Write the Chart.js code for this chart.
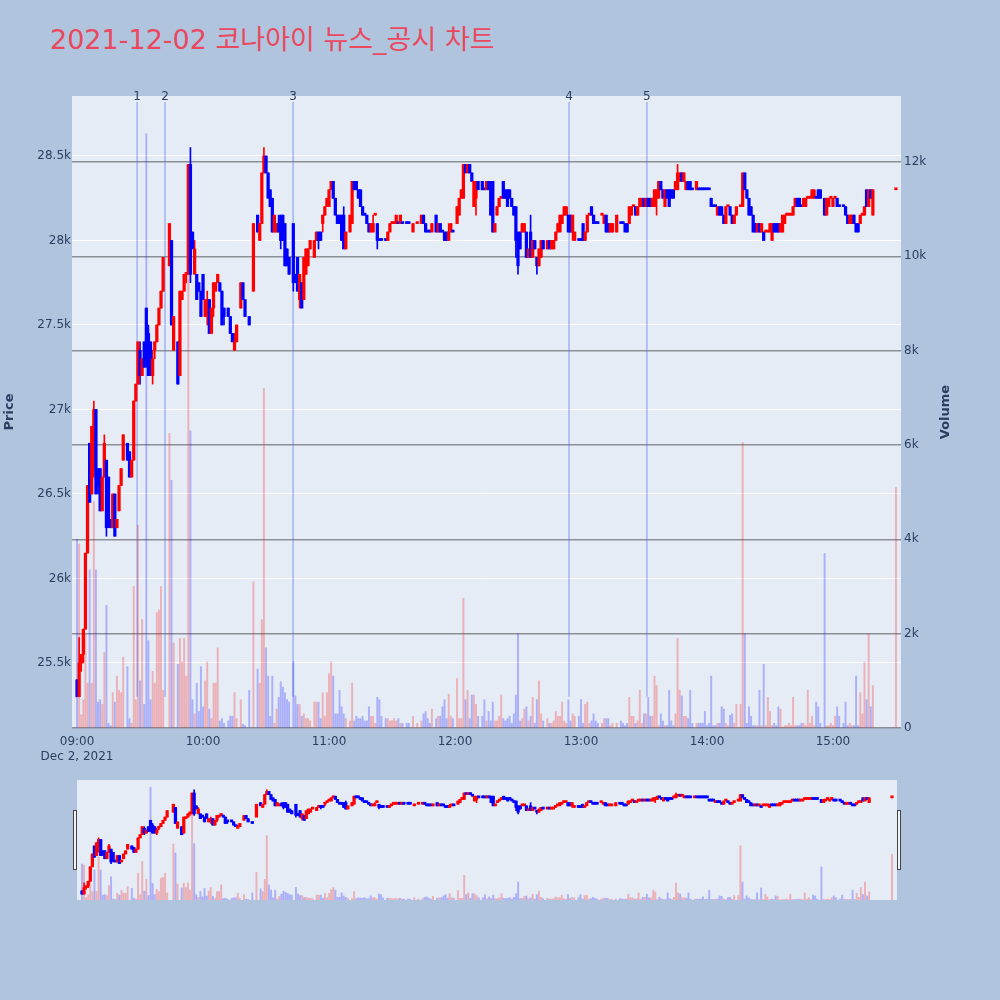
<!DOCTYPE html>
<html>
<head>
<meta charset="utf-8">
<script src="https://cdn.jsdelivr.net/npm/chart.js@4.4.0/dist/chart.umd.min.js"></script>
<style>
  body { margin: 0; width: 1000px; height: 1000px; background: #b0c4de; position: relative; overflow: hidden; }
  #title { position: absolute; left: 50px; top: 26px; font: 27px "DejaVu Sans", "Noto Sans CJK KR", sans-serif; color: #e9485e; white-space: nowrap; line-height: 1; }
  #main { position: absolute; left: 0; top: 0; }
  #slider { position: absolute; left: 72px; top: 780px; }
</style>
</head>
<body>
<div id="title">2021-12-02 코나아이 뉴스_공시 차트</div>
<canvas id="main" width="1000" height="770"></canvas>
<canvas id="slider" width="830" height="120"></canvas>
<script>
// minutes after 09:00, 2021-12-02 (1-minute candles)
const minutesFromOpen = [
  0,1,2,3,4,5,6,7,8,9,
  10,11,12,13,14,15,16,17,18,19,
  20,21,22,24,25,26,27,28,29,30,
  31,32,33,34,35,36,37,38,39,40,
  41,44,45,46,48,49,50,51,52,53,
  54,55,56,57,58,59,60,61,62,63,
  64,65,66,67,68,69,70,72,73,74,
  75,76,78,79,80,82,84,86,87,88,
  89,90,91,92,93,94,95,96,97,98,
  99,100,101,103,104,105,106,107,108,109,
  110,111,113,114,115,116,117,118,119,120,
  121,122,123,124,125,126,127,128,130,131,
  132,133,134,135,136,137,138,139,140,141,
  142,143,144,145,147,148,149,150,151,152,
  153,154,155,157,158,160,162,164,165,166,
  167,168,169,171,172,173,174,175,176,177,
  178,179,181,182,183,184,185,186,187,188,
  189,190,191,193,194,195,196,197,198,199,
  200,201,202,203,204,205,206,207,208,209,
  210,211,212,213,214,215,216,217,218,219,
  220,221,222,224,225,226,227,228,229,230,
  231,232,233,234,235,236,237,239,240,241,
  242,243,244,245,246,247,248,250,251,252,
  253,254,255,257,259,260,261,262,263,264,
  265,266,267,268,269,270,271,272,273,274,
  275,276,277,278,279,280,281,282,283,284,
  285,286,287,288,289,290,291,292,293,295,
  296,297,298,299,300,301,302,303,304,305,
  306,307,308,309,310,311,312,313,314,316,
  317,318,319,320,321,322,323,324,325,326,
  327,328,329,330,331,332,333,334,335,336,
  337,338,339,340,341,342,343,344,345,346,
  347,348,349,350,351,352,353,354,356,357,
  358,359,360,361,362,363,365,366,367,368,
  369,370,371,372,373,374,375,376,377,378,
  379,390
];

const openPrices = [
  25400,25300,25500,25550,25700,26150,26800,26500,26650,27000,
  26650,26650,26400,26600,26700,26600,26350,26300,26500,26300,
  26400,26550,26700,26800,26750,26600,26700,27050,27150,27350,
  27200,27400,27600,27450,27400,27200,27350,27400,27500,27600,
  27700,27850,28000,27350,27400,27200,27650,27700,27800,27800,
  28450,28050,27800,27800,27750,27700,27800,27550,27550,27650,
  27450,27600,27700,27750,27750,27700,27600,27600,27550,27450,
  27350,27400,27600,27750,27650,27550,27700,28150,28000,28100,
  28400,28500,28400,28300,28250,28050,28050,28100,28150,28150,
  28100,27950,27900,28100,27800,27900,27650,27750,27650,27800,
  27850,27950,27900,28000,28050,28050,28100,28150,28200,28200,
  28300,28350,28250,28150,28150,28150,28150,27950,28050,28100,
  28350,28350,28300,28300,28200,28150,28150,28100,28050,28050,
  28150,28100,28000,28000,28000,28000,28050,28100,28100,28100,
  28100,28100,28100,28100,28100,28050,28100,28100,28150,28100,
  28050,28050,28050,28150,28050,28100,28050,28050,28050,28000,
  28050,28050,28100,28150,28250,28250,28450,28400,28450,28400,
  28200,28250,28350,28350,28300,28300,28350,28350,28350,28050,
  28150,28200,28250,28350,28300,28300,28300,28250,28200,28200,
  28050,28050,28050,28050,28050,27900,28050,27900,28000,27900,
  27850,27900,28000,27950,28000,27950,27950,28000,28050,28050,
  28100,28150,28150,28150,28150,28050,28000,28000,28000,28100,
  28000,28050,28150,28200,28150,28100,28100,28150,28100,28150,
  28100,28050,28050,28050,28100,28100,28100,28100,28100,28150,
  28200,28200,28150,28200,28200,28250,28200,28250,28250,28200,
  28200,28250,28250,28350,28300,28200,28300,28300,28300,28300,
  28300,28300,28350,28400,28350,28300,28350,28350,28300,28300,
  28300,28300,28300,28300,28300,28300,28250,28200,28200,28150,
  28200,28200,28150,28100,28200,28200,28150,28100,28150,28200,
  28200,28400,28300,28250,28200,28150,28100,28050,28100,28050,
  28050,28050,28050,28050,28000,28100,28100,28100,28050,28050,
  28100,28150,28150,28150,28150,28200,28250,28250,28200,28200,
  28200,28250,28250,28250,28250,28250,28300,28300,28250,28150,
  28200,28250,28200,28250,28250,28200,28200,28200,28150,28100,
  28100,28150,28100,28100,28100,28150,28150,28300,28200,28300,
  28150,28300
];

const highPrices = [
  25400,25650,25550,25700,26150,26550,26800,26900,27050,27000,
  26650,26650,26600,26850,26700,26600,26350,26500,26500,26350,
  26550,26650,26850,26800,26750,26700,27050,27150,27400,27400,
  27300,27400,27600,27500,27400,27350,27400,27500,27600,27700,
  27900,28100,28000,27550,27400,27700,27700,27800,27800,28450,
  28550,28050,28000,27800,27750,27700,27800,27650,27700,27650,
  27600,27750,27750,27800,27750,27700,27600,27600,27550,27450,
  27450,27500,27750,27750,27650,27550,28100,28150,28100,28400,
  28550,28500,28400,28300,28250,28150,28100,28150,28150,28150,
  28100,27950,27900,28100,27800,27900,27800,27750,27900,27950,
  27950,28000,28000,28050,28050,28050,28150,28200,28250,28300,
  28350,28350,28250,28150,28150,28150,28200,28050,28150,28350,
  28350,28350,28300,28300,28200,28150,28150,28100,28100,28150,
  28150,28100,28000,28000,28000,28050,28100,28100,28100,28150,
  28100,28150,28100,28100,28100,28100,28100,28150,28150,28100,
  28050,28050,28100,28150,28100,28100,28050,28050,28050,28100,
  28100,28050,28200,28250,28300,28450,28450,28450,28450,28400,
  28350,28350,28350,28350,28300,28350,28350,28350,28350,28100,
  28200,28250,28250,28350,28300,28300,28300,28250,28200,28200,
  28050,28050,28100,28100,28050,27950,28150,28000,28000,27900,
  27950,28000,28000,28000,28000,28000,28000,28050,28100,28150,
  28150,28200,28200,28150,28150,28150,28050,28000,28000,28100,
  28050,28150,28150,28200,28150,28100,28100,28150,28150,28150,
  28100,28100,28100,28150,28100,28100,28100,28100,28200,28200,
  28200,28200,28200,28250,28250,28250,28250,28250,28250,28250,
  28300,28300,28350,28350,28300,28300,28300,28300,28300,28300,
  28350,28450,28400,28400,28400,28350,28350,28350,28300,28350,
  28300,28300,28300,28300,28300,28300,28250,28200,28200,28200,
  28200,28200,28150,28200,28200,28200,28150,28150,28200,28200,
  28400,28400,28300,28250,28200,28150,28100,28100,28100,28100,
  28050,28050,28050,28100,28100,28100,28100,28100,28100,28150,
  28150,28150,28150,28150,28200,28250,28250,28250,28200,28250,
  28250,28250,28250,28300,28300,28250,28300,28300,28250,28250,
  28250,28250,28250,28250,28250,28200,28200,28200,28150,28150,
  28150,28150,28100,28100,28150,28150,28200,28300,28300,28300,
  28300,28300
];

const lowPrices = [
  25300,25300,25450,25500,25700,26150,26450,26500,26600,26500,
  26500,26400,26400,26600,26250,26300,26300,26300,26250,26300,
  26400,26550,26700,26700,26600,26600,26700,27050,27150,27150,
  27200,27250,27250,27200,27200,27150,27300,27400,27500,27600,
  27700,27850,27500,27350,27150,27200,27650,27700,27750,27800,
  27750,27950,27800,27650,27700,27550,27650,27550,27500,27450,
  27450,27550,27700,27750,27700,27500,27500,27550,27450,27400,
  27350,27400,27600,27650,27550,27500,27700,28050,28000,28100,
  28400,28400,28250,28200,28050,28050,28050,28050,27950,28000,
  27850,27850,27800,27700,27750,27700,27600,27600,27650,27800,
  27850,27950,27900,28000,27950,28000,28050,28150,28200,28200,
  28300,28250,28150,28100,28100,28000,27950,27950,28050,28100,
  28300,28300,28250,28200,28150,28150,28100,28050,28050,28050,
  28150,27950,28000,28000,28000,28000,28050,28100,28100,28100,
  28100,28100,28100,28100,28100,28050,28100,28100,28100,28050,
  28050,28050,28050,28050,28050,28050,28050,28000,28000,28000,
  28050,28050,28100,28150,28250,28250,28400,28400,28400,28350,
  28200,28150,28300,28300,28300,28300,28300,28150,28050,28050,
  28150,28200,28250,28250,28250,28200,28250,28200,28150,27900,
  27800,27950,28050,28050,27900,27900,27900,27900,27950,27800,
  27850,27900,27950,27950,27950,27950,27950,28000,28050,28050,
  28100,28150,28150,28050,28050,28000,28000,28000,28000,28000,
  28000,28050,28150,28150,28100,28100,28100,28150,28100,28050,
  28050,28050,28050,28050,28100,28100,28050,28050,28100,28150,
  28200,28150,28150,28200,28200,28200,28200,28200,28200,28200,
  28200,28150,28250,28300,28250,28200,28250,28200,28250,28250,
  28300,28300,28350,28350,28350,28300,28300,28300,28300,28300,
  28300,28300,28300,28300,28300,28300,28200,28200,28200,28150,
  28150,28150,28100,28100,28200,28150,28100,28100,28150,28200,
  28200,28300,28250,28150,28150,28050,28050,28050,28050,28050,
  28000,28050,28050,28050,28000,28050,28050,28050,28050,28050,
  28100,28150,28150,28150,28150,28200,28200,28200,28200,28200,
  28200,28250,28250,28250,28250,28250,28250,28250,28150,28150,
  28200,28250,28200,28250,28200,28200,28200,28150,28100,28100,
  28100,28100,28050,28050,28100,28150,28150,28200,28200,28250,
  28150,28300
];

const closePrices = [
  25300,25500,25550,25700,26150,26550,26450,26900,27000,26500,
  26550,26400,26600,26800,26300,26350,26300,26500,26250,26350,
  26550,26650,26850,26700,26600,26700,27050,27150,27400,27200,
  27300,27250,27300,27200,27200,27300,27400,27500,27600,27700,
  27900,28100,27500,27550,27150,27700,27700,27800,27800,28450,
  27800,27950,27950,27650,27700,27550,27650,27650,27650,27450,
  27600,27750,27750,27800,27700,27500,27550,27550,27450,27400,
  27400,27500,27750,27650,27550,27500,28100,28050,28100,28400,
  28500,28400,28250,28200,28050,28150,28100,28050,28000,28000,
  27850,27850,27800,27750,27750,27700,27800,27600,27900,27950,
  27950,28000,28000,28050,28000,28000,28150,28200,28250,28300,
  28350,28250,28150,28100,28100,28000,27950,28050,28150,28350,
  28300,28300,28250,28200,28150,28150,28100,28050,28100,28100,
  28150,28000,28000,28000,28000,28050,28100,28100,28100,28150,
  28100,28150,28100,28100,28100,28100,28100,28150,28100,28050,
  28050,28050,28100,28050,28100,28050,28050,28000,28000,28050,
  28100,28050,28200,28250,28300,28450,28400,28450,28400,28350,
  28350,28350,28300,28300,28300,28350,28300,28150,28050,28100,
  28200,28250,28250,28250,28250,28200,28250,28200,28150,28000,
  27850,27950,28100,28100,27900,27950,27900,28000,27950,27850,
  27950,28000,27950,28000,27950,28000,28000,28050,28100,28150,
  28150,28200,28200,28050,28050,28150,28050,28000,28000,28000,
  28050,28150,28150,28150,28100,28100,28100,28150,28150,28050,
  28050,28100,28100,28150,28100,28100,28050,28050,28200,28200,
  28200,28150,28200,28250,28250,28200,28250,28200,28200,28250,
  28300,28300,28350,28300,28250,28300,28250,28200,28250,28250,
  28350,28400,28400,28350,28400,28350,28300,28300,28300,28350,
  28300,28300,28300,28300,28300,28300,28200,28200,28200,28200,
  28150,28150,28100,28200,28200,28150,28100,28150,28200,28200,
  28400,28300,28250,28150,28150,28050,28050,28100,28050,28100,
  28000,28050,28050,28100,28100,28050,28050,28050,28100,28150,
  28150,28150,28150,28150,28200,28250,28200,28200,28200,28250,
  28250,28250,28250,28300,28300,28250,28250,28250,28150,28250,
  28250,28250,28250,28250,28200,28200,28200,28150,28100,28150,
  28150,28100,28050,28050,28150,28150,28200,28200,28300,28250,
  28300,28300
];

const volumes = [
  4000,3900,280,600,2000,950,3350,950,4800,3350,
  550,600,500,1600,2600,100,50,750,550,1100,
  800,750,1500,1300,200,100,3000,600,4300,1000,
  2300,500,12600,1850,600,1200,950,2450,2500,3000,
  800,6250,5250,1800,1350,1900,1400,1900,1100,9600,
  6300,600,300,950,350,1300,450,1000,1400,400,
  200,950,950,1700,150,200,100,150,250,250,
  750,200,600,80,50,800,3100,1250,950,2300,
  7200,1700,1100,250,1100,100,400,650,980,870,
  750,600,550,1400,680,500,500,250,300,200,
  200,150,550,550,550,200,750,250,750,1150,
  1400,1100,300,300,800,450,300,200,150,950,
  150,250,200,200,250,150,150,450,250,250,
  100,650,600,250,200,200,150,150,200,150,
  200,100,100,100,100,250,100,150,300,350,
  200,100,400,200,250,250,450,600,200,720,
  250,200,1050,200,200,2750,600,800,200,700,
  700,500,250,250,600,150,350,150,550,150,
  150,250,700,200,150,200,250,100,300,700,
  2000,150,200,400,450,150,250,650,100,600,
  1000,300,150,200,100,100,150,350,250,250,
  550,150,100,600,150,300,250,250,600,100,
  500,550,100,150,300,150,100,100,200,200,
  200,50,100,100,150,100,50,100,650,250,
  250,100,150,800,100,300,300,650,250,250,
  1100,900,50,300,150,50,50,800,150,50,
  300,1900,800,680,250,250,200,800,100,100,
  100,100,100,350,50,100,1100,50,50,100,
  100,450,400,100,50,270,300,100,500,500,
  6050,2000,100,450,250,50,50,50,800,50,
  1350,50,650,350,50,100,50,450,400,20,
  50,50,100,50,650,50,50,50,100,100,
  50,800,100,250,50,550,450,100,3700,50,
  50,100,50,250,450,250,100,550,50,100,
  50,50,1100,50,750,300,1400,600,2000,450,
  900,5100
];

// news / disclosure markers
const newsMinutes = [28.6, 41.9, 102.9, 234.3, 271.4];
const newsLabels = ['1', '2', '3', '4', '5'];

const xTicks = [0, 60, 120, 180, 240, 300, 360];
const priceTicks = [25500, 26000, 26500, 27000, 27500, 28000, 28500];
const volumeTicks = [0, 2000, 4000, 6000, 8000, 10000, 12000];

const RED = '#ff0000';
const BLUE = '#0000ff';
const TEXT = '#2a3f5f';
const PLOT_BG = '#e5ecf6';
const FONT = '"DejaVu Sans"';

// plotly rule: equal open/close compares with previous close
const rising = [];
closePrices.forEach((c, i) => {
  const o = openPrices[i];
  let r;
  if (c > o) r = true;
  else if (c < o) r = false;
  else if (i > 0 && c > closePrices[i - 1]) r = true;
  else if (i > 0 && c < closePrices[i - 1]) r = false;
  else r = i > 0 ? rising[i - 1] : false;
  rising.push(r);
});

function hhmm(m) {
  const h = 9 + Math.floor(m / 60);
  const mm = m % 60;
  return String(h).padStart(2, '0') + ':' + String(mm).padStart(2, '0');
}

function kLabel(v) {
  if (v === 0) return '0';
  return (v / 1000).toString() + 'k';
}

function buildDatasets() {
  return [
    {
      label: 'Volume',
      yAxisID: 'yVol',
      order: 3,
      grouped: false,
      barThickness: 1.3,
      data: minutesFromOpen.map((m, i) => ({ x: m, y: volumes[i] })),
      backgroundColor: rising.map(r => r ? 'rgba(255,0,0,0.25)' : 'rgba(0,0,255,0.25)')
    },
    {
      label: 'wick',
      yAxisID: 'y',
      order: 2,
      grouped: false,
      barThickness: 1,
      data: minutesFromOpen.map((m, i) => ({ x: m, y: [lowPrices[i], highPrices[i]] })),
      backgroundColor: rising.map(r => r ? RED : BLUE)
    },
    {
      label: 'body',
      yAxisID: 'y',
      order: 1,
      grouped: false,
      barThickness: 2.6,
      minBarLength: 2,
      data: minutesFromOpen.map((m, i) => ({
        x: m,
        y: [Math.min(openPrices[i], closePrices[i]), Math.max(openPrices[i], closePrices[i])]
      })),
      backgroundColor: rising.map(r => r ? RED : BLUE)
    }
  ];
}

const plotBg = {
  id: 'plotBg',
  beforeDraw(chart) {
    const a = chart.chartArea;
    chart.ctx.save();
    chart.ctx.fillStyle = PLOT_BG;
    chart.ctx.fillRect(a.left, a.top, a.right - a.left, a.bottom - a.top);
    chart.ctx.restore();
  }
};

const newsMarks = {
  id: 'newsMarks',
  beforeDatasetsDraw(chart) {
    const { ctx, chartArea, scales } = chart;
    ctx.save();
    ctx.strokeStyle = 'rgba(80,110,240,0.45)';
    ctx.lineWidth = 1.5;
    ctx.fillStyle = TEXT;
    ctx.font = '12px ' + FONT;
    ctx.textAlign = 'center';
    ctx.textBaseline = 'middle';
    newsMinutes.forEach((m, i) => {
      const x = scales.x.getPixelForValue(m);
      ctx.beginPath();
      ctx.moveTo(x, chartArea.top + 6);
      ctx.lineTo(x, scales.y.getPixelForValue(25300));
      ctx.stroke();
      ctx.fillText(newsLabels[i], x, chartArea.top + 1);
    });
    ctx.restore();
  }
};

const axisTitles = {
  id: 'axisTitles',
  afterDraw(chart) {
    const { ctx, chartArea } = chart;
    const mid = (chartArea.top + chartArea.bottom) / 2;
    [['Price', 10], ['Volume', 946]].forEach(([text, x]) => {
      ctx.save();
      ctx.fillStyle = TEXT;
      ctx.font = 'bold 13px ' + FONT;
      ctx.textAlign = 'center';
      ctx.textBaseline = 'middle';
      ctx.translate(x, mid);
      ctx.rotate(-Math.PI / 2);
      ctx.fillText(text, 0, 0);
      ctx.restore();
    });
  }
};

const tickFont = { family: 'DejaVu Sans', size: 12 };

new Chart(document.getElementById('main'), {
  type: 'bar',
  data: { datasets: buildDatasets() },
  options: {
    responsive: false,
    animation: false,
    devicePixelRatio: 1,
    layout: { padding: { top: 96, left: 0, right: 0, bottom: 0 } },
    plugins: { legend: { display: false }, tooltip: { enabled: false } },
    scales: {
      x: {
        type: 'linear',
        min: -2.4,
        max: 392.4,
        offset: false,
        grid: { display: false, drawTicks: false },
        border: { display: false },
        afterBuildTicks: s => { s.ticks = xTicks.map(v => ({ value: v })); },
        afterFit: s => { s.height = 42; },
        ticks: {
          autoSkip: false,
          maxRotation: 0,
          padding: 7,
          color: TEXT,
          font: tickFont,
          callback: v => v === 0 ? [hhmm(v), 'Dec 2, 2021'] : hhmm(v)
        }
      },
      y: {
        position: 'left',
        min: 25115,
        max: 28855,
        grid: { color: '#ffffff', lineWidth: 1, drawTicks: false },
        border: { display: false },
        afterBuildTicks: s => { s.ticks = priceTicks.map(v => ({ value: v })); },
        afterFit: s => { s.width = 72; },
        ticks: { padding: 1, color: TEXT, font: tickFont, callback: v => kLabel(v) }
      },
      yVol: {
        position: 'right',
        min: 0,
        max: 13400,
        grid: { color: '#8c9096', lineWidth: 1.5, drawTicks: false },
        border: { display: false },
        afterBuildTicks: s => { s.ticks = volumeTicks.map(v => ({ value: v })); },
        afterFit: s => { s.width = 99; },
        ticks: { padding: 3, color: TEXT, font: tickFont, callback: v => kLabel(v) }
      }
    }
  },
  plugins: [plotBg, newsMarks, axisTitles]
});

// range slider preview
const sliderHandles = {
  id: 'sliderHandles',
  afterDraw(chart) {
    const { ctx, chartArea } = chart;
    ctx.save();
    ctx.fillStyle = '#f2f2f2';
    ctx.strokeStyle = '#444444';
    ctx.lineWidth = 1;
    [chartArea.left - 4, chartArea.right].forEach(x => {
      ctx.fillRect(x + 0.5, 30.5, 3, 59);
      ctx.strokeRect(x + 0.5, 30.5, 3, 59);
    });
    ctx.restore();
  }
};

new Chart(document.getElementById('slider'), {
  type: 'bar',
  data: { datasets: buildDatasets() },
  options: {
    responsive: false,
    animation: false,
    devicePixelRatio: 1,
    layout: { padding: { top: 0, left: 5, right: 5, bottom: 0 } },
    plugins: { legend: { display: false }, tooltip: { enabled: false } },
    scales: {
      x: { type: 'linear', min: -2.4, max: 392.4, offset: false, display: false },
      y: { min: 25115, max: 28855, display: false },
      yVol: { min: 0, max: 13400, display: false }
    }
  },
  plugins: [plotBg, sliderHandles]
});
</script>
</body>
</html>
